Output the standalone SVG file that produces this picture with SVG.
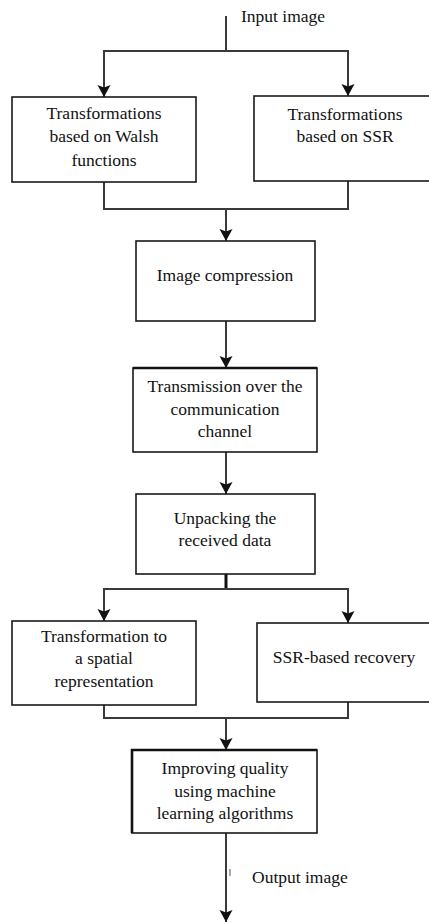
<svg xmlns="http://www.w3.org/2000/svg" width="429" height="923" viewBox="0 0 429 923">
<style>
.box{fill:#fff;stroke:#1a1a1a;stroke-width:1.6}
.thick{stroke:#111;stroke-width:2.6;fill:none}
.t{font-family:"Liberation Serif","Times New Roman",serif;font-size:17.5px;fill:#111;text-anchor:middle}
.tl{font-family:"Liberation Serif","Times New Roman",serif;font-size:17.5px;fill:#111}
.c{fill:none;stroke:#3a3a3a;stroke-width:2}
</style>
<defs>
<marker id="ah" viewBox="0 -7 12 14" refX="12" refY="0" markerWidth="12" markerHeight="14" markerUnits="userSpaceOnUse" orient="auto">
<path d="M0,-6.5 L12,0 L0,6.5 L2.5,0 z" fill="#111"/>
</marker>
</defs>
<g id="connectors">
<path class="c" d="M226,16 V51"/>
<path class="c" d="M226,51 H104 V97" marker-end="url(#ah)"/>
<path class="c" d="M226,51 H348 V96" marker-end="url(#ah)"/>
<path class="c" d="M104,182 V209 H348 V181"/>
<path class="c" d="M226,209 V241" marker-end="url(#ah)"/>
<path class="c" d="M226,321 V368" marker-end="url(#ah)"/>
<path class="c" d="M226,452 V494" marker-end="url(#ah)"/>
<path d="M226,574 V589" stroke="#111" stroke-width="3" fill="none"/>
<path class="c" d="M226,589 H104 V621" marker-end="url(#ah)"/>
<path class="c" d="M226,589 H348 V623" marker-end="url(#ah)"/>
<path class="c" d="M104,705 V718 H348 V702"/>
<path class="c" d="M226,718 V750" marker-end="url(#ah)"/>
<path class="c" d="M226,833 V922" marker-end="url(#ah)"/>
<path d="M230,869 V876" stroke="#555" stroke-width="1" fill="none"/>
</g>
<g id="input">
<text class="tl" x="241" y="22">Input image</text>
</g>
<g id="walsh">
<rect class="box" x="12" y="97" width="184" height="85"/>
<text class="t" x="104" y="119">Transformations</text>
<text class="t" x="104" y="142">based on Walsh</text>
<text class="t" x="104" y="166">functions</text>
</g>
<g id="ssr">
<rect class="box" x="254" y="96" width="185" height="85"/>
<text class="t" x="345" y="120">Transformations</text>
<text class="t" x="345" y="142">based on SSR</text>
</g>
<g id="compression">
<rect class="box" x="136" y="241" width="179" height="80"/>
<text class="t" x="225" y="281">Image compression</text>
</g>
<g id="transmission">
<rect class="box" x="133" y="368" width="184" height="84"/>
<path class="thick" d="M133,368 H317"/>
<text class="t" x="225" y="392">Transmission over the</text>
<text class="t" x="225" y="415">communication</text>
<text class="t" x="225" y="437">channel</text>
</g>
<g id="unpacking">
<rect class="box" x="136" y="494" width="179" height="80"/>
<text class="t" x="225" y="524">Unpacking the</text>
<text class="t" x="225" y="546">received data</text>
</g>
<g id="spatial">
<rect class="box" x="12" y="621" width="184" height="84"/>
<text class="t" x="104" y="642">Transformation to</text>
<text class="t" x="104" y="664">a spatial</text>
<text class="t" x="104" y="687">representation</text>
</g>
<g id="recovery">
<rect class="box" x="257" y="623" width="182" height="79"/>
<text class="t" x="344" y="663">SSR-based recovery</text>
</g>
<g id="improving">
<rect class="box" x="132" y="750" width="185" height="83"/>
<path class="thick" d="M132,833 V750 H317"/>
<text class="t" x="225" y="774">Improving quality</text>
<text class="t" x="225" y="797">using machine</text>
<text class="t" x="225" y="819">learning algorithms</text>
</g>
<g id="output">
<text class="tl" x="252" y="883">Output image</text>
</g>
</svg>
